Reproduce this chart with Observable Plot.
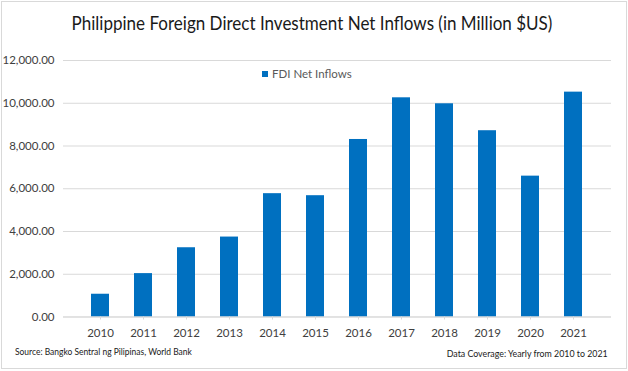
<!DOCTYPE html>
<html>
<head>
<meta charset="utf-8">
<script src="https://cdn.jsdelivr.net/npm/d3@7"></script>
<script src="https://cdn.jsdelivr.net/npm/@observablehq/plot@0.6"></script>
<style>
  html, body { margin: 0; padding: 0; background: #fff; }
  #wrap { position: relative; width: 628px; height: 371px; overflow: hidden; font-family: Lato, "Open Sans", sans-serif; }
  #border { position: absolute; left: 1px; top: 1px; width: 624px; height: 366px; border: 1px solid #d9d9d9; pointer-events: none; }
  #title { position: absolute; left: 0; top: 12px; width: 624px; text-align: center; font-size: 18.5px; color: #1a1a1a; transform: scaleX(0.92); transform-origin: 312px 0; }
  #legend { position: absolute; left: 262px; top: 67px; font-size: 11.5px; color: #595959; display: flex; align-items: center; }
  #legend span.sw { display: inline-block; width: 6px; height: 6px; background: #0070C0; margin-right: 4px; }
  #source { position: absolute; left: 15px; top: 346px; font-size: 9.2px; color: #1a1a1a; transform: scaleX(0.92); transform-origin: 0 0; }
  #coverage { position: absolute; right: 20px; top: 348px; font-size: 9.2px; color: #1a1a1a; transform: scaleX(0.96); transform-origin: 100% 0; }
  svg { position: absolute; left: 0; top: 0; }
</style>
</head>
<body>
<div id="wrap">
  <div id="chart"></div>
  <div id="title"></div>
  <div id="legend"><span class="sw"></span><span id="legtext"></span></div>
  <div id="source"></div>
  <div id="coverage"></div>
  <div id="border"></div>
</div>
<script>
const titleText = "Philippine Foreign Direct Investment Net Inflows (in Million $US)";
const seriesName = "FDI Net Inflows";
const sourceText = "Source: Bangko Sentral ng Pilipinas, World Bank";
const coverageText = "Data Coverage: Yearly from 2010 to 2021";

const years = ["2010","2011","2012","2013","2014","2015","2016","2017","2018","2019","2020","2021"];
const values = [1065, 2030, 3240, 3740, 5770, 5675, 8305, 10255, 9975, 8715, 6590, 10520];
const yTicks = [0, 2000, 4000, 6000, 8000, 10000, 12000];

const data = years.map((y, i) => ({year: y, value: values[i]}));

document.getElementById("title").textContent = titleText;
document.getElementById("legtext").textContent = seriesName;
document.getElementById("source").textContent = sourceText;
document.getElementById("coverage").textContent = coverageText;

const chart = Plot.plot({
  width: 628,
  height: 371,
  marginTop: 60,
  marginBottom: 54.5,
  marginLeft: 63,
  marginRight: 17,
  style: { fontFamily: "Lato, Open Sans, sans-serif", fontSize: "11.5px", color: "#404040", background: "transparent" },
  x: { domain: years, padding: 0.58, label: null },
  y: { domain: [0, 12000], label: null },
  marks: [
    Plot.gridY(yTicks, { stroke: "#d9d9d9", strokeOpacity: 1, strokeWidth: 1 }),
    Plot.barY(data, { x: "year", y: "value", fill: "#0070C0" }),
    Plot.ruleY([0], { stroke: "#d9d9d9", strokeWidth: 1 }),
    Plot.axisY(yTicks, { tickFormat: d3.format(",.2f"), tickSize: 0, tickPadding: 9, fill: "#404040", fontSize: 11.5 }),
    Plot.axisX({ tickSize: 3, tickPadding: 9, stroke: "#d9d9d9", fill: "#404040", fontSize: 11.5 })
  ]
});
document.getElementById("chart").appendChild(chart);
</script>
</body>
</html>
